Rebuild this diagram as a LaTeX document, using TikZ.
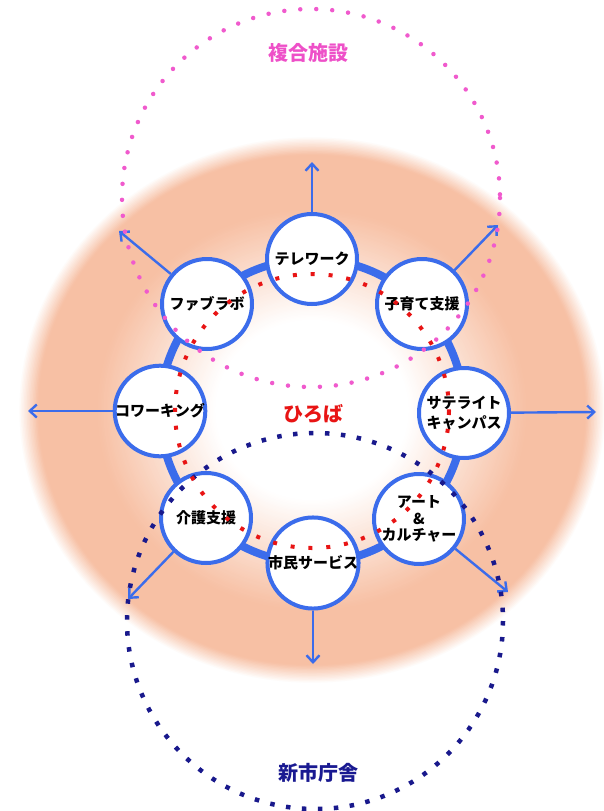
\documentclass[tikz,border=0pt]{standalone}
\usepackage{fontspec}
\newfontfamily\jp{Noto Sans CJK JP}
\usetikzlibrary{arrows.meta}
\definecolor{ringblue}{RGB}{59,108,235}
\definecolor{peach}{RGB}{247,192,164}
\definecolor{pinkdot}{RGB}{240,90,205}
\definecolor{navydot}{RGB}{25,25,140}
\definecolor{reddot}{RGB}{232,20,20}
\definecolor{pinktext}{RGB}{238,80,200}
\definecolor{navytext}{RGB}{25,25,145}
\tikzset{
  hub/.style={circle, draw=ringblue, line width=4, fill=white, minimum size=90,
    inner sep=0, align=center, text=black,
    font=\jp\bfseries\fontsize{15}{18}\selectfont},
  arr/.style={draw=ringblue, line width=2.4, -{Straight Barb[length=7,width=13]}},
  ring/.style={draw=ringblue, line width=8},
  pinkdots/.style={draw=pinkdot, line width=4.5, line cap=round, dash pattern=on 0pt off 16},
  navydots/.style={draw=navydot, line width=4.5, dash pattern=on 4.5 off 11.5},
  reddots/.style={draw=reddot, line width=4, dash pattern=on 4 off 13.9},
  label/.style={font=\jp\bfseries\fontsize{20}{24}\selectfont, inner sep=0}
}
\begin{document}
\begin{tikzpicture}[x=1pt,y=-1pt]
\useasboundingbox (0,0) rectangle (604,811);
\foreach \k in {0,...,134}{
  \pgfmathsetmacro{\t}{1-\k*0.005}
  \pgfmathtruncatemacro{\m}{min(100,min((1-\t)*1500,max(0,(\t-0.33)*250)))}
  \fill[peach!\m!white] (312,410) ellipse [x radius=294*\t, y radius=274*\t];
}
\coordinate (c) at (312,411);
\draw[ring] (c) circle [radius=152];
\node[hub] (tele) at (312,259) {テレワーク};
\node[hub] (kosodate) at (422,304) {子育て支援};
\node[hub, font=\jp\bfseries\fontsize{15}{20}\selectfont] (sat) at (464,413) {サテライト\\キャンパス};
\node[hub, font=\jp\bfseries\fontsize{15}{16.5}\selectfont] (art) at (419,519) {アート\\\&\\カルチャー};
\node[hub] (shimin) at (313,563) {市民サービス};
\node[hub] (kaigo) at (206,518) {介護支援};
\node[hub] (cowork) at (160,411) {コワーキング};
\node[hub] (fab) at (207,304) {ファブラボ};
\coordinate (ttele) at (312,162);
\coordinate (tkoso) at (498,225);
\coordinate (tsat) at (596,412);
\coordinate (tart) at (508,592);
\coordinate (tshimin) at (313,664);
\coordinate (tkaigo) at (128,599);
\coordinate (tcowork) at (28,411);
\coordinate (tfab) at (119,231);
\draw[arr] (tele) -- (ttele);
\draw[arr] (kosodate) -- (tkoso);
\draw[arr] (sat) -- (tsat);
\draw[arr] (art) -- (tart);
\draw[arr] (shimin) -- (tshimin);
\draw[arr] (kaigo) -- (tkaigo);
\draw[arr] (cowork) -- (tcowork);
\draw[arr] (fab) -- (tfab);
\draw[pinkdots] (311,198) circle [radius=189];
\draw[navydots] (315,621) circle [radius=188];
\draw[reddots] (c) circle [radius=137];
\node[label, text=pinktext] (fukugo) at (308,53) {複合施設};
\node[label, text=navytext] (shin) at (318,773) {新市庁舎};
\node[label, text=reddot] (hiroba) at (313,414) {ひろば};
\end{tikzpicture}
\end{document}
